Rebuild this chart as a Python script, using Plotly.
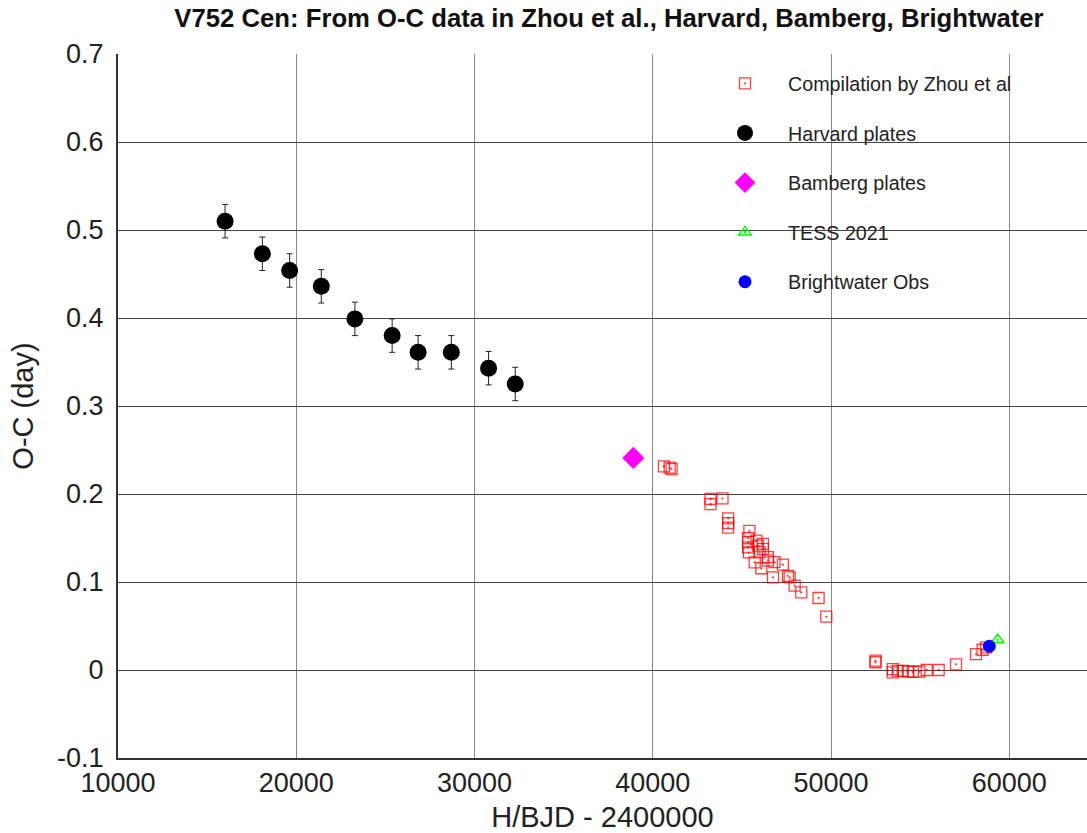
import plotly.graph_objects as go

# Harvard plates
harv_x = [16008, 18100, 19630, 21405, 23290, 25380, 26836, 28700, 30790, 32285]
harv_y = [0.510, 0.473, 0.454, 0.436, 0.399, 0.380, 0.361, 0.361, 0.343, 0.325]
harv_err = [0.019] * len(harv_x)

# Bamberg plates
bam_x = [38910]
bam_y = [0.241]

# Compilation by Zhou et al
zhou_x = [40627, 41058, 40950, 43240, 43240, 43913,
          44230, 44230, 44230, 45422, 45350, 45350, 45350, 45390,
          45815, 45900, 46180, 46180, 45995, 45720, 46090,
          46460, 46460, 46830, 47300, 46745, 47585, 47680,
          47960, 48333, 49305, 49735,
          52497, 52497, 53467, 53467, 53747, 54027, 54307, 54590, 54960,
          55370, 56040, 57015, 58135, 58505, 58700]
zhou_y = [0.2315, 0.2284, 0.2300, 0.1943, 0.1886, 0.1950,
          0.1724, 0.1670, 0.1617, 0.1580, 0.1497, 0.1451, 0.1394, 0.1337,
          0.1470, 0.1414, 0.1433, 0.1376, 0.1337, 0.1224, 0.1156,
          0.1282, 0.1244, 0.1225, 0.1198, 0.1053, 0.1070, 0.1052,
          0.0958, 0.0883, 0.0818, 0.0606,
          0.0088, 0.0106, 0.0011, -0.0026, -0.0010, -0.0010, -0.0017, -0.0021, -0.0017,
          0.0000, 0.0000, 0.0064, 0.0180, 0.0230, 0.0258]

# TESS 2021
tess_x = [59350]
tess_y = [0.0344]

# Brightwater Obs
bw_x = [58880]
bw_y = [0.027]

x_ticks = [10000, 20000, 30000, 40000, 50000, 60000]
y_ticks = [-0.1, 0, 0.1, 0.2, 0.3, 0.4, 0.5, 0.6, 0.7]
y_ticklabels = ["-0.1", "0", "0.1", "0.2", "0.3", "0.4", "0.5", "0.6", "0.7"]

FONT = "Liberation Sans, Arial, sans-serif"
W, H = 1087, 833
L, T, R = 118, 54, 0
B = H - 758
PW, PH = W - L - R, H - T - B


def px(xp):  # page x -> plot fraction
    return (xp - L) / PW


def py(yp):  # page y -> plot fraction
    return (T + PH - yp) / PH


fig = go.Figure()

fig.add_trace(go.Scatter(
    x=zhou_x, y=zhou_y, mode="markers", name="Compilation by Zhou et al",
    legendgroup="a",
    marker=dict(symbol="square-open-dot", size=11, color="rgba(255,0,0,0.75)",
                line=dict(width=1.3, color="rgba(255,0,0,0.75)")),
))
fig.add_trace(go.Scatter(
    x=harv_x, y=harv_y, mode="markers", name="Harvard plates",
    legendgroup="b",
    error_y=dict(type="data", array=harv_err, visible=True, color="#222",
                 thickness=1, width=3),
    marker=dict(symbol="circle", size=17, color="black"),
))
fig.add_trace(go.Scatter(
    x=bam_x, y=bam_y, mode="markers", name="Bamberg plates",
    legendgroup="c",
    marker=dict(symbol="diamond", size=17, color="#ff00ff"),
))
fig.add_trace(go.Scatter(
    x=tess_x, y=tess_y, mode="markers", name="TESS 2021",
    legendgroup="d",
    marker=dict(symbol="triangle-up-open-dot", size=11, color="#00ff00",
                line=dict(width=1.5, color="#00ff00")),
))
fig.add_trace(go.Scatter(
    x=bw_x, y=bw_y, mode="markers", name="Brightwater Obs",
    legendgroup="e",
    marker=dict(symbol="circle", size=13, color="#0000ff"),
))

# white box behind the legend (covers the grid)
fig.add_shape(type="rect", xref="paper", yref="paper",
              x0=px(710), x1=px(1081), y0=py(305), y1=py(60),
              fillcolor="white", line=dict(width=0), layer="between")

fig.update_layout(
    width=W, height=H,
    margin=dict(l=L, r=R, t=T, b=B, autoexpand=False),
    paper_bgcolor="white", plot_bgcolor="white",
    font=dict(family=FONT, color="#222"),
    title=dict(text="<b>V752 Cen: From O-C data in Zhou et al., Harvard, Bamberg, Brightwater</b>",
               x=609 / W, xanchor="center", y=1 - 18 / H, yanchor="middle",
               font=dict(size=25.7, color="#111")),
    showlegend=True,
    legend=dict(x=px(702), xanchor="left", y=py(64), yanchor="top",
                bgcolor="rgba(0,0,0,0)", font=dict(size=19.7, color="#222"),
                tracegroupgap=21, itemwidth=76),
    xaxis=dict(range=[10000, 10000 + PW / 178.25 * 10000], tickvals=x_ticks,
               ticktext=[str(v) for v in x_ticks], automargin=False,
               showgrid=True, gridcolor="#888", gridwidth=1,
               showline=True, linecolor="#333", linewidth=2, mirror=False,
               ticks="", tickfont=dict(size=27, color="#222"),
               title=dict(text="H/BJD - 2400000", font=dict(size=29, color="#222"), standoff=14),
               zeroline=False),
    yaxis=dict(range=[-0.1, 0.7], tickvals=y_ticks, ticktext=y_ticklabels,
               automargin=False,
               showgrid=True, gridcolor="#444", gridwidth=1,
               showline=True, linecolor="#333", linewidth=2,
               ticks="", ticklabelstandoff=7, tickfont=dict(size=27, color="#222"),
               title=dict(text="O-C (day)", font=dict(size=29, color="#222"), standoff=15),
               zeroline=False),
)

# remove the default page margin so the figure fills the window exactly
fig.write_html("out.html", config={"displayModeBar": False},
               post_script="document.body.style.margin='0px';document.body.style.overflow='hidden';")
